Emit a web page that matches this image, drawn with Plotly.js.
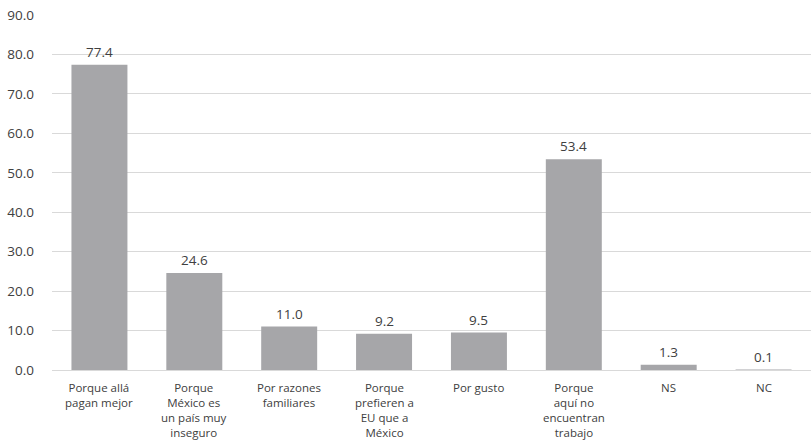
<!DOCTYPE html>
<html>
<head>
<meta charset="utf-8">
<script src="https://cdn.plot.ly/plotly-3.0.1.min.js"></script>
<style>html,body{margin:0;padding:0;background:#fff;}#chart{width:811px;height:444px;}</style>
</head>
<body>
<div id="chart"></div>
<script>
const categories = ["C1", "C2", "C3", "C4", "C5", "C6", "C7", "C8"];
const categoryLabels = [
  ["Porque allá", "pagan mejor"],
  ["Porque", "México es", "un país muy", "inseguro"],
  ["Por razones", "familiares"],
  ["Porque", "prefieren a", "EU que a", "México"],
  ["Por gusto"],
  ["Porque", "aquí no", "encuentran", "trabajo"],
  ["NS"],
  ["NC"]
];
const values = [77.4, 24.6, 11.0, 9.2, 9.5, 53.4, 1.3, 0.1];
const yTicks = [0, 10, 20, 30, 40, 50, 60, 70, 80, 90];

const FONT = "'Open Sans', sans-serif";
const TXT = "#404040";

const trace = {
  type: "bar",
  x: categories,
  y: values,
  marker: {color: "#a6a6a9"},
  hoverinfo: "none"
};

const annotations = [];
// value labels
values.forEach((v, i) => {
  annotations.push({
    x: categories[i], y: v, xref: "x", yref: "y",
    text: v.toFixed(1), showarrow: false,
    xanchor: "center", yanchor: "bottom", yshift: 2,
    font: {family: FONT, size: 13.5, color: TXT}
  });
});
// category labels (multi-line text)
categoryLabels.forEach((lines, i) => {
  annotations.push({
    x: categories[i], y: 0, xref: "x", yref: "paper",
    text: lines.join("<br>"), showarrow: false,
    align: "center",
    xanchor: "center", yanchor: "top", yshift: -8,
    font: {family: FONT, size: 11.5, color: TXT}
  });
});

const layout = {
  width: 811, height: 444,
  margin: {l: 52, r: 0, t: 15, b: 74, pad: 0},
  paper_bgcolor: "#fff", plot_bgcolor: "#fff",
  bargap: 0.41,
  showlegend: false,
  font: {family: FONT, size: 13.5, color: TXT},
  annotations: annotations,
  xaxis: {
    type: "category",
    showgrid: false,
    showline: true, linecolor: "#d9d9d9", linewidth: 1,
    ticks: "", showticklabels: false,
    automargin: false
  },
  yaxis: {
    range: [0, 90],
    tickvals: yTicks,
    tickformat: ".1f",
    showgrid: true, gridcolor: "#d9d9d9", gridwidth: 1,
    zeroline: false, showline: false,
    ticks: "", tickfont: {family: FONT, size: 13.5, color: TXT},
    ticklabelstandoff: 17,
    automargin: false
  }
};

Plotly.newPlot("chart", [trace], layout, {displayModeBar: false, staticPlot: true});
</script>
</body>
</html>
